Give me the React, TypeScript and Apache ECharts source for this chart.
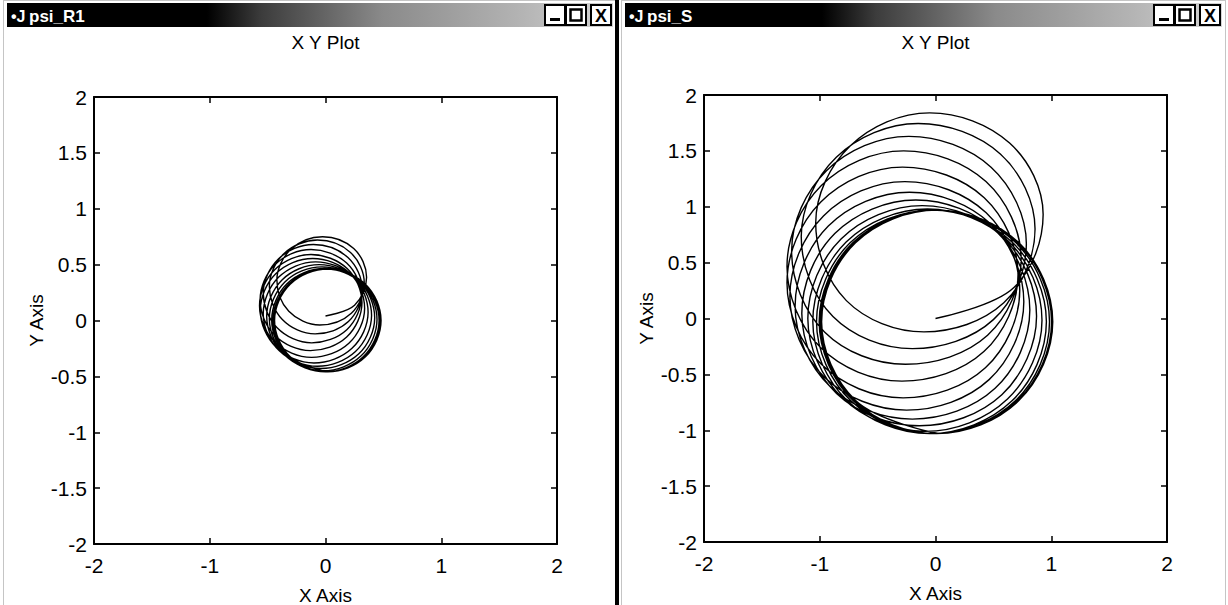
import React, { useEffect, useRef } from "react";
import * as echarts from "echarts";

// Axis ticks and texts
const xTickValues = [-2, -1, 0, 1, 2];
const yTickValues = [-2, -1.5, -1, -0.5, 0, 0.5, 1, 1.5, 2];
const windowTitles = ["psi_R1", "psi_S"];
const plotTitle = "X Y Plot";
const xAxisName = "X Axis";
const yAxisName = "Y Axis";

// Rotor flux trajectory (psi_R1), [x, y] points along the spiral, 8 per turn
const psiR1: [number, number][] = [
  [0, 0.04], [0.251, 0.137], [0.355, 0.388], [0.244, 0.644], [-0.025, 0.75], [-0.299, 0.637], [-0.42, 0.363], [-0.317, 0.083],
  [-0.05, -0.04], [0.223, 0.065], [0.335, 0.335], [0.216, 0.609], [-0.07, 0.72], [-0.36, 0.597], [-0.485, 0.305], [-0.373, 0.009],
  [-0.09, -0.12], [0.198, -0.009], [0.318, 0.275], [0.194, 0.563], [-0.105, 0.68], [-0.407, 0.551], [-0.538, 0.245], [-0.418, -0.065],
  [-0.12, -0.2], [0.184, -0.082], [0.31, 0.215], [0.183, 0.514], [-0.125, 0.635], [-0.435, 0.501], [-0.565, 0.185], [-0.439, -0.133],
  [-0.13, -0.27], [0.183, -0.148], [0.315, 0.158], [0.187, 0.465], [-0.125, 0.59], [-0.439, 0.454], [-0.57, 0.133], [-0.439, -0.191],
  [-0.12, -0.33], [0.202, -0.204], [0.338, 0.11], [0.208, 0.426], [-0.11, 0.555], [-0.43, 0.418], [-0.563, 0.09], [-0.427, -0.239],
  [-0.1, -0.38], [0.229, -0.249], [0.368, 0.073], [0.236, 0.394], [-0.085, 0.525], [-0.406, 0.386], [-0.538, 0.058], [-0.399, -0.271],
  [-0.07, -0.41], [0.259, -0.278], [0.398, 0.045], [0.266, 0.368], [-0.055, 0.5], [-0.376, 0.363], [-0.508, 0.035], [-0.369, -0.293],
  [-0.04, -0.43], [0.288, -0.298], [0.425, 0.025], [0.293, 0.348], [-0.03, 0.48], [-0.353, 0.343], [-0.485, 0.015], [-0.348, -0.313],
  [-0.02, -0.45], [0.308, -0.316], [0.445, 0.008], [0.313, 0.332], [-0.01, 0.465], [-0.333, 0.329], [-0.465, 0.003], [-0.328, -0.324],
  [0, -0.46], [0.326, -0.325], [0.463, 0], [0.329, 0.325], [0.005, 0.46], [-0.319, 0.325], [-0.453, 0], [-0.316, -0.325],
  [0.01, -0.46], [0.336, -0.325], [0.473, 0], [0.339, 0.325], [0.015, 0.46], [-0.309, 0.325], [-0.443, 0], [-0.306, -0.325],
  [0.02, -0.46], [0.345, -0.325], [0.48, 0], [0.345, 0.325], [0.02, 0.46], [-0.305, 0.325], [-0.44, 0], [-0.305, -0.325],
  [0.02, -0.46],
];

// Stator flux trajectory (psi_S), starting at the origin, 8 points per turn
const psiS: [number, number][] = [
  [0, 0], [0.68, 0.28], [0.93, 0.93], [0.64, 1.57], [-0.05, 1.84], [-0.738, 1.543], [-1.035, 0.855], [-0.77, 0.16],
  [-0.1, -0.12], [0.59, 0.14], [0.86, 0.8], [0.56, 1.472], [-0.15, 1.745], [-0.857, 1.443], [-1.16, 0.733], [-0.886, 0.018],
  [-0.2, -0.27], [0.5, -0.01], [0.785, 0.668], [0.48, 1.354], [-0.23, 1.63], [-0.942, 1.323], [-1.243, 0.603], [-0.959, -0.12],
  [-0.26, -0.41], [0.45, -0.15], [0.74, 0.535], [0.436, 1.225], [-0.275, 1.5], [-0.986, 1.19], [-1.283, 0.465], [-0.993, -0.26],
  [-0.29, -0.56], [0.418, -0.296], [0.713, 0.393], [0.421, 1.081], [-0.285, 1.355], [-0.991, 1.043], [-1.283, 0.318], [-0.988, -0.408],
  [-0.28, -0.71], [0.431, -0.441], [0.728, 0.253], [0.438, 0.946], [-0.265, 1.225], [-0.968, 0.918], [-1.258, 0.198], [-0.961, -0.523],
  [-0.25, -0.82], [0.463, -0.547], [0.763, 0.15], [0.476, 0.847], [-0.225, 1.13], [-0.926, 0.827], [-1.213, 0.11], [-0.913, -0.607],
  [-0.2, -0.9], [0.515, -0.625], [0.815, 0.075], [0.53, 0.775], [-0.17, 1.06], [-0.87, 0.76], [-1.155, 0.045], [-0.855, -0.67],
  [-0.14, -0.96], [0.573, -0.682], [0.873, 0.02], [0.586, 0.722], [-0.115, 1.01], [-0.816, 0.712], [-1.103, 0], [-0.803, -0.712],
  [-0.09, -1.01], [0.622, -0.72], [0.92, -0.015], [0.632, 0.69], [-0.07, 0.98], [-0.772, 0.685], [-1.06, -0.025], [-0.762, -0.735],
  [-0.05, -1.03], [0.661, -0.737], [0.958, -0.03], [0.668, 0.677], [-0.035, 0.97], [-0.738, 0.677], [-1.028, -0.03], [-0.731, -0.737],
  [-0.02, -1.03], [0.69, -0.737], [0.985, -0.03], [0.695, 0.677], [-0.01, 0.97], [-0.715, 0.677], [-1.005, -0.03], [-0.71, -0.737],
  [0, -1.03], [0.708, -0.737], [1.003, -0.03], [0.711, 0.677], [0.005, 0.97], [-0.701, 0.677], [-0.994, -0.03], [-0.698, -0.737],
  [0.01, -1.03], [0.718, -0.737], [1.013, -0.03], [0.721, 0.677], [0.015, 0.97], [-0.691, 0.677], [-0.984, -0.03], [-0.688, -0.737],
  [0.02, -1.03],
];

const W = 1228;
const H = 605;
const plotFont = "'Liberation Sans Narrow', 'Liberation Sans', Arial, sans-serif";
const barFont = "'Liberation Sans Narrow', 'Liberation Sans', Arial, sans-serif";

const panels = [
  { data: psiR1, title: windowTitles[0], frameX: 3, frameW: 614, grid: { left: 94, top: 97, width: 463, height: 447 } },
  { data: psiS, title: windowTitles[1], frameX: 621, frameW: 605, grid: { left: 704, top: 95, width: 463, height: 447 } },
];

function windowChrome(p: typeof panels[number]) {
  const x0 = p.frameX;
  const w = p.frameW;
  const barX = x0 + 4;
  const barW = w - 8;
  const barY = 3;
  const barH = 24;
  const btn = 20;
  const closeX = x0 + w - btn - 6;
  const maxX = closeX - btn - 5;
  const minX = maxX - btn - 1;
  const by = barY + (barH - btn) / 2;
  const cx = p.grid.left + p.grid.width / 2;
  return [
    {
      type: "rect",
      shape: { x: x0 + 0.5, y: 0.5, width: w - 1, height: H + 4 },
      style: { fill: "none", stroke: "#8a8a8a", lineWidth: 1, lineDash: [1, 1] },
      silent: true,
    },
    {
      type: "rect",
      shape: { x: barX, y: barY, width: barW, height: barH },
      style: {
        fill: new echarts.graphic.LinearGradient(0, 0, 1, 0, [
          { offset: 0, color: "#000" },
          { offset: 0.33, color: "#000" },
          { offset: 0.42, color: "#3c3c3c" },
          { offset: 0.62, color: "#8a8a8a" },
          { offset: 0.85, color: "#b4b4b4" },
          { offset: 1, color: "#d4d4d4" },
        ]),
      },
      silent: true,
    },
    {
      type: "text",
      x: barX + 4,
      y: barY + barH / 2 + 1,
      style: { text: "•J", fill: "#fff", font: `bold 16px ${barFont}`, verticalAlign: "middle" },
      silent: true,
    },
    {
      type: "text",
      x: barX + 22,
      y: barY + barH / 2 + 1,
      style: { text: p.title, fill: "#fff", font: `bold 17px ${barFont}`, verticalAlign: "middle" },
      silent: true,
    },
    // minimise / maximise / close boxes
    ...[minX, maxX, closeX].map((bx) => ({
      type: "rect",
      shape: { x: bx, y: by, width: btn, height: btn },
      style: { fill: "#fff", stroke: "#000", lineWidth: 2 },
      silent: true,
    })),
    {
      type: "rect",
      shape: { x: minX + 5, y: by + btn - 7, width: btn - 10, height: 3 },
      style: { fill: "#000" },
      silent: true,
    },
    {
      type: "rect",
      shape: { x: maxX + 4.5, y: by + 4.5, width: btn - 9, height: btn - 9 },
      style: { fill: "none", stroke: "#000", lineWidth: 2.5 },
      silent: true,
    },
    {
      type: "text",
      x: closeX + btn / 2,
      y: by + btn / 2 + 1,
      style: { text: "X", fill: "#000", font: `bold 18px ${plotFont}`, align: "center", verticalAlign: "middle" },
      silent: true,
    },
    {
      type: "text",
      x: cx,
      y: 42,
      style: { text: plotTitle, fill: "#000", font: `19px ${plotFont}`, align: "center", verticalAlign: "middle" },
      silent: true,
    },
  ];
}

function buildOption() {
  const xMin = xTickValues[0];
  const xMax = xTickValues[xTickValues.length - 1];
  const xStep = xTickValues[1] - xTickValues[0];
  const yMin = yTickValues[0];
  const yMax = yTickValues[yTickValues.length - 1];
  const yStep = yTickValues[1] - yTickValues[0];

  const lineStyle = { color: "#000", width: 2 };
  const tick = { show: true, inside: true, length: 6, lineStyle: { color: "#000", width: 1.5 } };
  const label = { color: "#000", fontSize: 21, fontFamily: plotFont };

  const xAxis: any[] = [];
  const yAxis: any[] = [];
  const series: any[] = [];

  panels.forEach((p, i) => {
    xAxis.push(
      {
        gridIndex: i,
        type: "value",
        position: "bottom",
        min: xMin,
        max: xMax,
        interval: xStep,
        axisLine: { show: true, onZero: false, lineStyle },
        axisTick: tick,
        axisLabel: { ...label, margin: 11 },
        splitLine: { show: false },
        name: xAxisName,
        nameLocation: "middle",
        nameGap: 42,
        nameTextStyle: { color: "#000", fontSize: 19, fontFamily: plotFont },
      },
      {
        gridIndex: i,
        type: "value",
        position: "top",
        min: xMin,
        max: xMax,
        interval: xStep,
        axisLine: { show: true, onZero: false, lineStyle },
        axisTick: tick,
        axisLabel: { show: false },
        splitLine: { show: false },
      }
    );
    yAxis.push(
      {
        gridIndex: i,
        type: "value",
        position: "left",
        min: yMin,
        max: yMax,
        interval: yStep,
        axisLine: { show: true, onZero: false, lineStyle },
        axisTick: tick,
        axisLabel: { ...label, margin: 7 },
        splitLine: { show: false },
        name: yAxisName,
        nameLocation: "middle",
        nameGap: 48,
        nameTextStyle: { color: "#000", fontSize: 19, fontFamily: plotFont },
      },
      {
        gridIndex: i,
        type: "value",
        position: "right",
        min: yMin,
        max: yMax,
        interval: yStep,
        axisLine: { show: true, onZero: false, lineStyle },
        axisTick: tick,
        axisLabel: { show: false },
        splitLine: { show: false },
      }
    );
    series.push({
      type: "line",
      name: p.title,
      xAxisIndex: i * 2,
      yAxisIndex: i * 2,
      data: p.data,
      showSymbol: false,
      symbol: "none",
      smooth: 0.36,
      lineStyle: { color: "#000", width: 1.4 },
      silent: true,
      clip: true,
    });
  });

  return {
    animation: false,
    backgroundColor: "#fff",
    grid: panels.map((p) => ({ ...p.grid, containLabel: false, outerBoundsMode: "none", show: false })),
    xAxis,
    yAxis,
    series,
    tooltip: { show: false },
    graphic: [
      ...panels.flatMap((p) => windowChrome(p)),
      // heavy divider between the two windows
      {
        type: "rect",
        shape: { x: 615, y: 0, width: 4, height: H },
        style: { fill: "#000" },
        silent: true,
      },
    ],
  };
}

export default function App() {
  const ref = useRef<HTMLDivElement>(null);
  useEffect(() => {
    document.body.style.margin = "0";
    if (!ref.current) return;
    const chart = echarts.init(ref.current, undefined, { renderer: "svg", width: W, height: H });
    chart.setOption(buildOption() as any);
    return () => chart.dispose();
  }, []);
  return <div ref={ref} style={{ width: W, height: H, background: "#fff", overflow: "hidden" }} />;
}
